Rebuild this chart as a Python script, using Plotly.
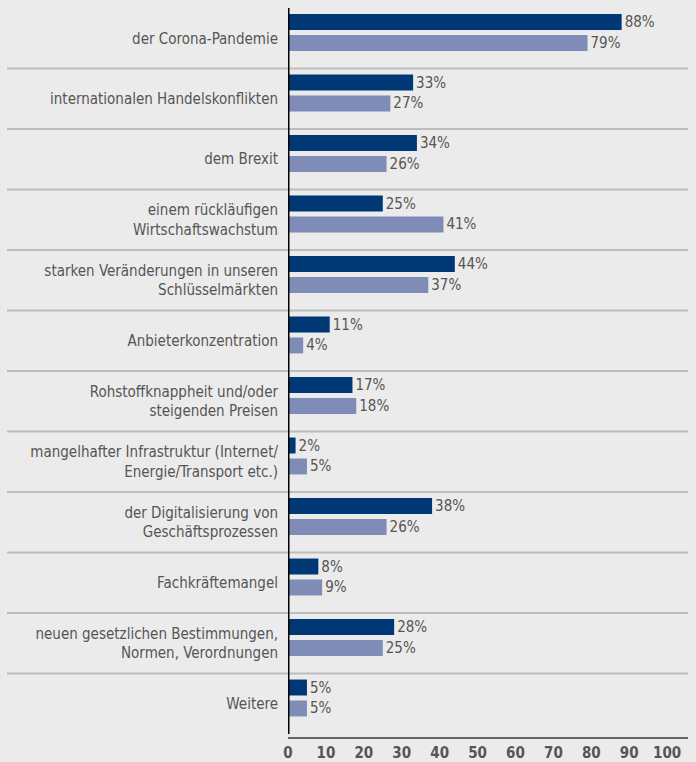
import plotly.graph_objects as go

categories = [
    "der Corona-Pandemie",
    "internationalen Handelskonflikten",
    "dem Brexit",
    "einem rückläufigen<br>Wirtschaftswachstum",
    "starken Veränderungen in unseren<br>Schlüsselmärkten",
    "Anbieterkonzentration",
    "Rohstoffknappheit und/oder<br>steigenden Preisen",
    "mangelhafter Infrastruktur (Internet/<br>Energie/Transport etc.)",
    "der Digitalisierung von<br>Geschäftsprozessen",
    "Fachkräftemangel",
    "neuen gesetzlichen Bestimmungen,<br>Normen, Verordnungen",
    "Weitere",
]
series_dark = [88, 33, 34, 25, 44, 11, 17, 2, 38, 8, 28, 5]
series_light = [79, 27, 26, 41, 37, 4, 18, 5, 26, 9, 25, 5]
x_ticks = [0, 10, 20, 30, 40, 50, 60, 70, 80, 90, 100]

FONT = "Liberation Sans Narrow, DejaVu Sans Condensed, sans-serif"
TXT = "#555555"
BG = "#ebebeb"
pos = list(range(len(categories)))

fig = go.Figure()
fig.add_trace(go.Bar(
    y=pos, x=series_dark, orientation="h", width=0.264, offset=-0.40,
    marker=dict(color="#003876", line=dict(width=0)),
    text=[f"{v}%" for v in series_dark], textposition="outside",
    constraintext="none",
    textfont=dict(family=FONT, size=15, color=TXT), cliponaxis=False,
))
fig.add_trace(go.Bar(
    y=pos, x=series_light, orientation="h", width=0.264, offset=-0.054,
    marker=dict(color="#7f8cb8", line=dict(width=0)),
    text=[f"{v}%" for v in series_light], textposition="outside",
    constraintext="none",
    textfont=dict(family=FONT, size=15, color=TXT), cliponaxis=False,
))

shapes = []
for i in range(len(categories) - 1):
    shapes.append(dict(type="line", xref="paper", yref="y",
                       x0=-0.7025, x1=1.0, y0=i + 0.5, y1=i + 0.5,
                       line=dict(color="#bdbdbd", width=2), layer="below"))
shapes.append(dict(type="line", xref="x", yref="y", x0=0, x1=0,
                   y0=-0.5, y1=len(categories) - 0.5,
                   line=dict(color="#000000", width=3), layer="above"))

fig.update_layout(
    width=696, height=762,
    margin=dict(l=288, r=8, t=8, b=25, pad=0, autoexpand=False),
    paper_bgcolor=BG, plot_bgcolor=BG,
    barmode="overlay", showlegend=False,
    shapes=shapes,
    font=dict(family=FONT, color=TXT),
    xaxis=dict(range=[0, 105.5], tickvals=x_ticks,
               ticktext=[f"<b>{t}</b>" for t in x_ticks],
               showgrid=False, zeroline=False, showline=True,
               linecolor="#666666", linewidth=2, automargin=False,
               ticks="", ticklabelstandoff=1,
               tickfont=dict(family=FONT, size=15, color=TXT)),
    yaxis=dict(range=[len(categories) - 0.5 + 0.05, -0.5],
               tickvals=pos, ticktext=categories, automargin=False,
               showgrid=False, zeroline=False, showline=False,
               ticks="outside", ticklen=6, tickcolor="rgba(0,0,0,0)",
               tickfont=dict(family=FONT, size=15, color=TXT)),
)

fig.write_html("out.html")
